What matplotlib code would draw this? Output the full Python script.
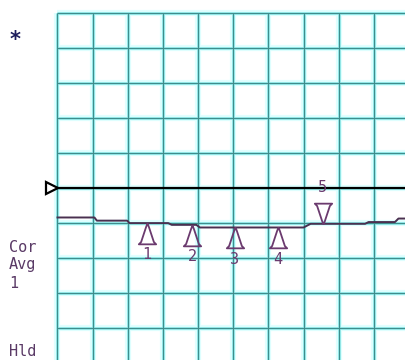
import numpy as np
import matplotlib.pyplot as plt
from matplotlib.path import Path

# trace (dB, 1 dB/div, ref 0 at center line), x in divisions
trace_x = [0.0, 1.05, 1.12, 1.98, 2.05, 3.15, 3.25, 3.95, 4.05, 7.0, 7.2, 8.75, 8.85, 9.6, 9.7, 10.0]
trace_y = [-0.84, -0.84, -0.93, -0.93, -1.00, -1.00, -1.05, -1.05, -1.125, -1.125,
           -1.02, -1.02, -0.97, -0.97, -0.87, -0.87]

# markers
mk_x = [2.55, 3.83, 5.05, 6.27, 7.55]
mk_y = [-0.99, -1.05, -1.125, -1.125, -1.02]
mk_labels = ['1', '2', '3', '4', '5']
mk_up = [True, True, True, True, False]

ref_level = 0.0
n_div = 10

W, H = 406, 360
fig = plt.figure(figsize=(W / 100, H / 100), dpi=100)
ax = fig.add_axes([0, 0, 1, 1])
ax.set_xlim((0 - 57.5) / 35.15, (W - 57.5) / 35.15)
ax.set_ylim(-(H - 188) / 35.1, 188 / 35.1)
ax.axis('off')

# grid with a soft cyan glow
gx = np.arange(n_div + 1)
gy = np.arange(-5, 6)
for lw, col in [(4.5, '#e0ffff'), (2.2, '#9ef3f3'), (0.9, '#3f8d8d')]:
    ax.vlines(gx, -5, 5, colors=col, lw=lw, zorder=1)
    ax.hlines(gy, 0, n_div, colors=col, lw=lw, zorder=1)

# reference line and its pointer
ax.plot([0, n_div], [ref_level, ref_level], color='black', lw=1.6, zorder=3)
ax.plot([-0.17], [ref_level], marker='>', ms=9, mfc='white', mec='black', mew=1.6,
        zorder=4, clip_on=False)

# trace
ax.plot(trace_x, trace_y, color='#4a3050', lw=1.4, zorder=3)

# marker shapes, tip at origin
up_verts = [(0, 0), (-1.2, -3), (-5.5, -16), (-7.5, -18), (7.5, -18), (5.5, -16), (1.2, -3), (0, 0)]
up_path = Path(up_verts)
dn_path = Path([(vx, -vy) for vx, vy in up_verts])

mk_color = '#6b3a6e'
for x, y, lab, up in zip(mk_x, mk_y, mk_labels, mk_up):
    ax.plot([x], [y], marker=up_path if up else dn_path, ms=30, mfc='none',
            mec=mk_color, mew=1.3, zorder=5)
    off = -23 if up else 26
    ax.annotate(lab, (x, y), xytext=(0, off), textcoords='offset points',
                ha='center', va='center', fontsize=11, color=mk_color,
                family='DejaVu Sans Mono', zorder=6)

# side annotations
txt_color = '#5a3a66'
fig.text(15 / W, 1 - 40 / H, '*', ha='center', va='center', fontsize=15,
         fontweight='bold', color='#1c1c5c')
for lab, py in [('Cor', 247), ('Avg', 265), ('1', 283), ('Hld', 351)]:
    fig.text(9 / W, 1 - py / H, lab, ha='left', va='center', fontsize=11,
             color=txt_color, family='DejaVu Sans Mono')

fig.savefig('out.png', dpi=100, facecolor='white')
